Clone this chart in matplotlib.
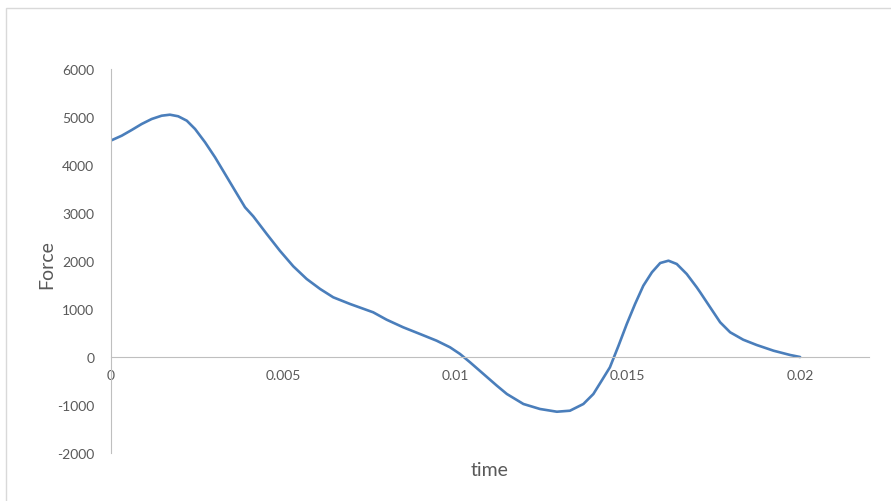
import matplotlib.pyplot as plt
from matplotlib.patches import Rectangle

# values
time = [0, 0.00031, 0.00060, 0.00089, 0.00118, 0.00147, 0.00171, 0.00195, 0.00220,
        0.00244, 0.00273, 0.00302, 0.00331, 0.00360, 0.00389, 0.00413, 0.00452, 0.00490,
        0.00529, 0.00568, 0.00607, 0.00645, 0.00694, 0.00761, 0.00800, 0.00848, 0.00897,
        0.00945, 0.00984, 0.01013, 0.01042, 0.01081, 0.01120, 0.01149, 0.01197,
        0.01245, 0.01294, 0.01332, 0.01371, 0.01400, 0.01424, 0.01448, 0.01473, 0.01497,
        0.01521, 0.01545, 0.01570, 0.01594, 0.01618, 0.01642, 0.01671, 0.01700, 0.01710,
        0.01739, 0.01768, 0.01797, 0.01835, 0.01874, 0.01923, 0.01971, 0.02]
force = [4510, 4610, 4729, 4854, 4958, 5027, 5048, 5015, 4923,
         4750, 4473, 4160, 3813, 3465, 3119, 2930, 2563, 2215,
         1890, 1625, 1417, 1244, 1104, 931, 777, 619, 479,
         340, 202, 63, -110, -354, -598, -771, -979,
         -1083, -1140, -1119, -979, -771, -494, -215, 235, 688,
         1104, 1485, 1765, 1958, 2006, 1938, 1729, 1452, 1348,
         1035, 723, 515, 360, 250, 131, 42, 0]

xticks = [0, 0.005, 0.01, 0.015, 0.02]
xtick_labels = ['0', '0.005', '0.01', '0.015', '0.02']
yticks = [-2000, -1000, 0, 1000, 2000, 3000, 4000, 5000, 6000]

plt.rcParams['font.family'] = ['Lato', 'DejaVu Sans']
plt.rcParams['axes.unicode_minus'] = False

fig = plt.figure(figsize=(8.91, 5.02), dpi=100)
fig.patches.append(Rectangle((6 / 891, -0.05), 1.2, 1 - 9 / 502 + 0.05,
                             transform=fig.transFigure, fill=False,
                             edgecolor='#d9d9d9', linewidth=1))

ax = fig.add_axes([111 / 891, 1 - 454 / 502, (869 - 111) / 891, (454 - 70) / 502])
ax.plot(time, force, color='#4a7ebb', linewidth=1.9,
        solid_joinstyle='round', solid_capstyle='round')

ax.set_xlim(0, 0.022)
ax.set_ylim(-2000, 6000)
ax.set_xticks(xticks)
ax.set_xticklabels(xtick_labels)
ax.set_yticks(yticks)

for s in ['top', 'right']:
    ax.spines[s].set_visible(False)
ax.spines['bottom'].set_position(('data', 0))
ax.spines['bottom'].set_color('#bfbfbf')
ax.spines['left'].set_color('#bfbfbf')
ax.tick_params(length=0, labelsize=10, labelcolor='#595959')
ax.tick_params(axis='x', pad=9)
ax.tick_params(axis='y', pad=12)

fig.text(47 / 891, 1 - 265 / 502, 'Force', rotation=90, ha='center', va='center',
         fontsize=14, color='#595959')
fig.text(490 / 891, 1 - 471 / 502, 'time', ha='center', va='center',
         fontsize=14, color='#595959')

fig.savefig('out.png', dpi=100)
